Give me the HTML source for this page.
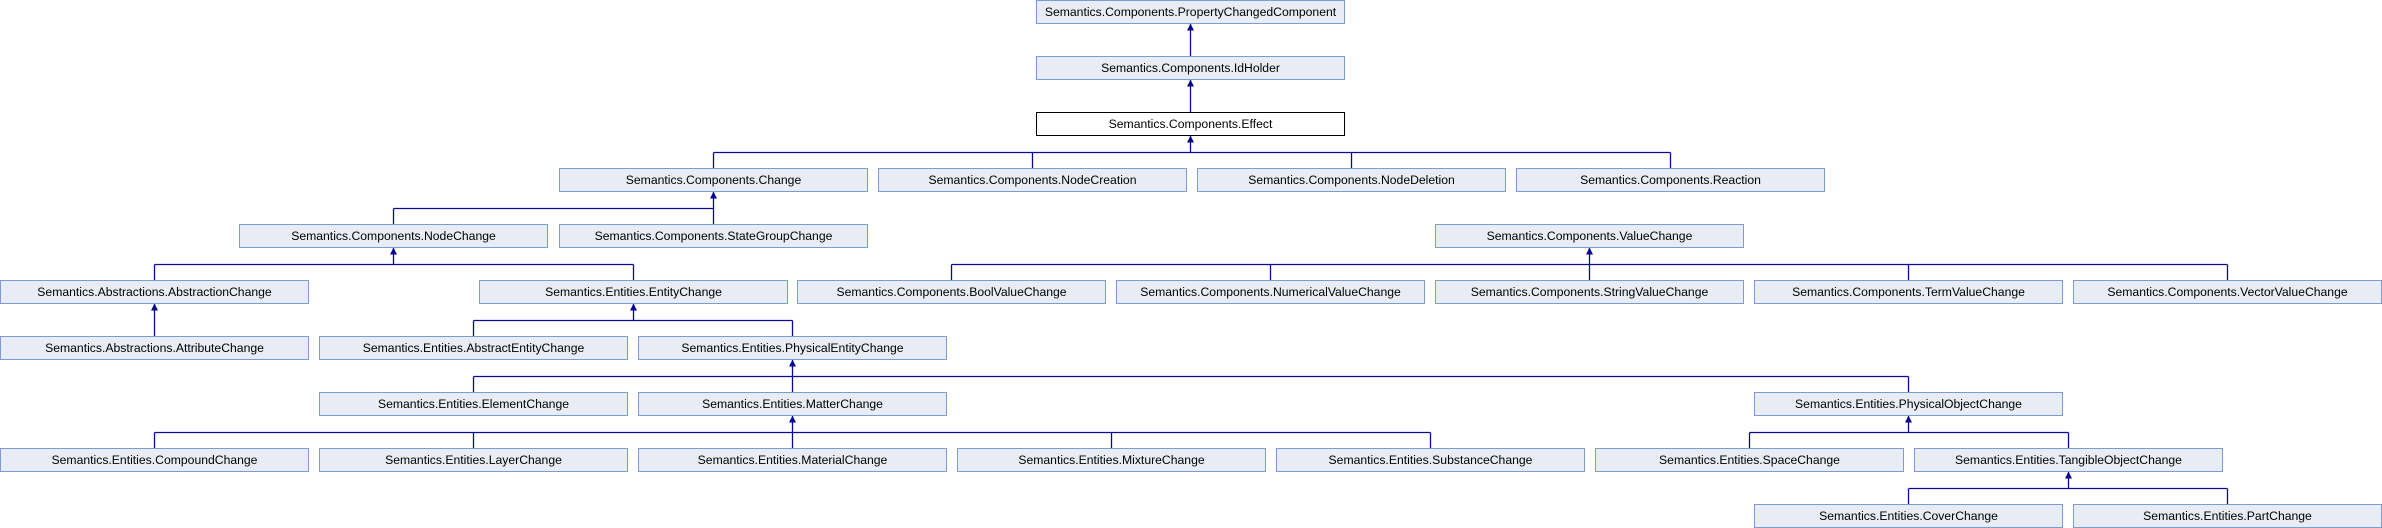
<!DOCTYPE html>
<html><head><meta charset="utf-8"><style>
html,body{margin:0;padding:0;background:#fff;width:2382px;height:528px;overflow:hidden}
svg text{font-family:"Liberation Sans",Arial,sans-serif;font-size:12.2px;fill:#000;text-anchor:middle}
.b rect{fill:#e8ecf4;stroke:#7f9bd4;stroke-width:1}
.e{fill:none;stroke:#0a0a96;stroke-width:1.3}
.a{fill:#0a0a96}
</style></head><body>
<svg width="2382" height="528" viewBox="0 0 2382 528" xmlns="http://www.w3.org/2000/svg">
<g class="e">
<path d="M1190.5 23.5V56.5"/>
<path d="M1190.5 79.5V112.5"/>
<path d="M1190.5 135.5V152.5M713.5 152.5H1670.5M713.5 152.5V168.5M1032.5 152.5V168.5M1351.5 152.5V168.5M1670.5 152.5V168.5"/>
<path d="M713.5 191.5V224.5M393.5 208.5H713.5M393.5 208.5V224.5"/>
<path d="M393.5 247.5V264.5M154.5 264.5H633.5M154.5 264.5V280.5M633.5 264.5V280.5"/>
<path d="M1589.5 247.5V280.5M951.5 264.5H2227.5M951.5 264.5V280.5M1270.5 264.5V280.5M1908.5 264.5V280.5M2227.5 264.5V280.5"/>
<path d="M154.5 303.5V336.5"/>
<path d="M633.5 303.5V320.5M473.5 320.5H792.5M473.5 320.5V336.5M792.5 320.5V336.5"/>
<path d="M792.5 359.5V392.5M473.5 376.5H1908.5M473.5 376.5V392.5M1908.5 376.5V392.5"/>
<path d="M792.5 415.5V448.5M154.5 432.5H1430.5M154.5 432.5V448.5M473.5 432.5V448.5M1111.5 432.5V448.5M1430.5 432.5V448.5"/>
<path d="M1908.5 415.5V432.5M1749.5 432.5H2068.5M1749.5 432.5V448.5M2068.5 432.5V448.5"/>
<path d="M2068.5 471.5V488.5M1908.5 488.5H2227.5M1908.5 488.5V504.5M2227.5 488.5V504.5"/>
</g>
<g class="a">
<path d="M1190.5 23.5l-3.5 7h7z"/><path d="M1190.5 79.5l-3.5 7h7z"/><path d="M1190.5 135.5l-3.5 7h7z"/>
<path d="M713.5 191.5l-3.5 7h7z"/><path d="M393.5 247.5l-3.5 7h7z"/><path d="M1589.5 247.5l-3.5 7h7z"/>
<path d="M154.5 303.5l-3.5 7h7z"/><path d="M633.5 303.5l-3.5 7h7z"/><path d="M792.5 359.5l-3.5 7h7z"/>
<path d="M792.5 415.5l-3.5 7h7z"/><path d="M1908.5 415.5l-3.5 7h7z"/><path d="M2068.5 471.5l-3.5 7h7z"/>
</g>
<g class="b">
<rect x="1036.5" y="0.5" width="308" height="23"/><text x="1190.5" y="16">Semantics.Components.PropertyChangedComponent</text>
<rect x="1036.5" y="56.5" width="308" height="23"/><text x="1190.5" y="72">Semantics.Components.IdHolder</text>
<rect x="1036.5" y="112.5" width="308" height="23" style="fill:#fff;stroke:#000"/><text x="1190.5" y="128">Semantics.Components.Effect</text>

<rect x="559.5" y="168.5" width="308" height="23"/><text x="713.5" y="184">Semantics.Components.Change</text>
<rect x="878.5" y="168.5" width="308" height="23"/><text x="1032.5" y="184">Semantics.Components.NodeCreation</text>
<rect x="1197.5" y="168.5" width="308" height="23"/><text x="1351.5" y="184">Semantics.Components.NodeDeletion</text>
<rect x="1516.5" y="168.5" width="308" height="23"/><text x="1670.5" y="184">Semantics.Components.Reaction</text>

<rect x="239.5" y="224.5" width="308" height="23"/><text x="393.5" y="240">Semantics.Components.NodeChange</text>
<rect x="559.5" y="224.5" width="308" height="23"/><text x="713.5" y="240">Semantics.Components.StateGroupChange</text>
<rect x="1435.5" y="224.5" width="308" height="23"/><text x="1589.5" y="240">Semantics.Components.ValueChange</text>

<rect x="0.5" y="280.5" width="308" height="23"/><text x="154.5" y="296">Semantics.Abstractions.AbstractionChange</text>
<rect x="479.5" y="280.5" width="308" height="23"/><text x="633.5" y="296">Semantics.Entities.EntityChange</text>
<rect x="797.5" y="280.5" width="308" height="23"/><text x="951.5" y="296">Semantics.Components.BoolValueChange</text>
<rect x="1116.5" y="280.5" width="308" height="23"/><text x="1270.5" y="296">Semantics.Components.NumericalValueChange</text>
<rect x="1435.5" y="280.5" width="308" height="23"/><text x="1589.5" y="296">Semantics.Components.StringValueChange</text>
<rect x="1754.5" y="280.5" width="308" height="23"/><text x="1908.5" y="296">Semantics.Components.TermValueChange</text>
<rect x="2073.5" y="280.5" width="308" height="23"/><text x="2227.5" y="296">Semantics.Components.VectorValueChange</text>

<rect x="0.5" y="336.5" width="308" height="23"/><text x="154.5" y="352">Semantics.Abstractions.AttributeChange</text>
<rect x="319.5" y="336.5" width="308" height="23"/><text x="473.5" y="352">Semantics.Entities.AbstractEntityChange</text>
<rect x="638.5" y="336.5" width="308" height="23"/><text x="792.5" y="352">Semantics.Entities.PhysicalEntityChange</text>

<rect x="319.5" y="392.5" width="308" height="23"/><text x="473.5" y="408">Semantics.Entities.ElementChange</text>
<rect x="638.5" y="392.5" width="308" height="23"/><text x="792.5" y="408">Semantics.Entities.MatterChange</text>
<rect x="1754.5" y="392.5" width="308" height="23"/><text x="1908.5" y="408">Semantics.Entities.PhysicalObjectChange</text>

<rect x="0.5" y="448.5" width="308" height="23"/><text x="154.5" y="464">Semantics.Entities.CompoundChange</text>
<rect x="319.5" y="448.5" width="308" height="23"/><text x="473.5" y="464">Semantics.Entities.LayerChange</text>
<rect x="638.5" y="448.5" width="308" height="23"/><text x="792.5" y="464">Semantics.Entities.MaterialChange</text>
<rect x="957.5" y="448.5" width="308" height="23"/><text x="1111.5" y="464">Semantics.Entities.MixtureChange</text>
<rect x="1276.5" y="448.5" width="308" height="23"/><text x="1430.5" y="464">Semantics.Entities.SubstanceChange</text>
<rect x="1595.5" y="448.5" width="308" height="23"/><text x="1749.5" y="464">Semantics.Entities.SpaceChange</text>
<rect x="1914.5" y="448.5" width="308" height="23"/><text x="2068.5" y="464">Semantics.Entities.TangibleObjectChange</text>

<rect x="1754.5" y="504.5" width="308" height="23"/><text x="1908.5" y="520">Semantics.Entities.CoverChange</text>
<rect x="2073.5" y="504.5" width="308" height="23"/><text x="2227.5" y="520">Semantics.Entities.PartChange</text>
</g>
</svg>
</body></html>
